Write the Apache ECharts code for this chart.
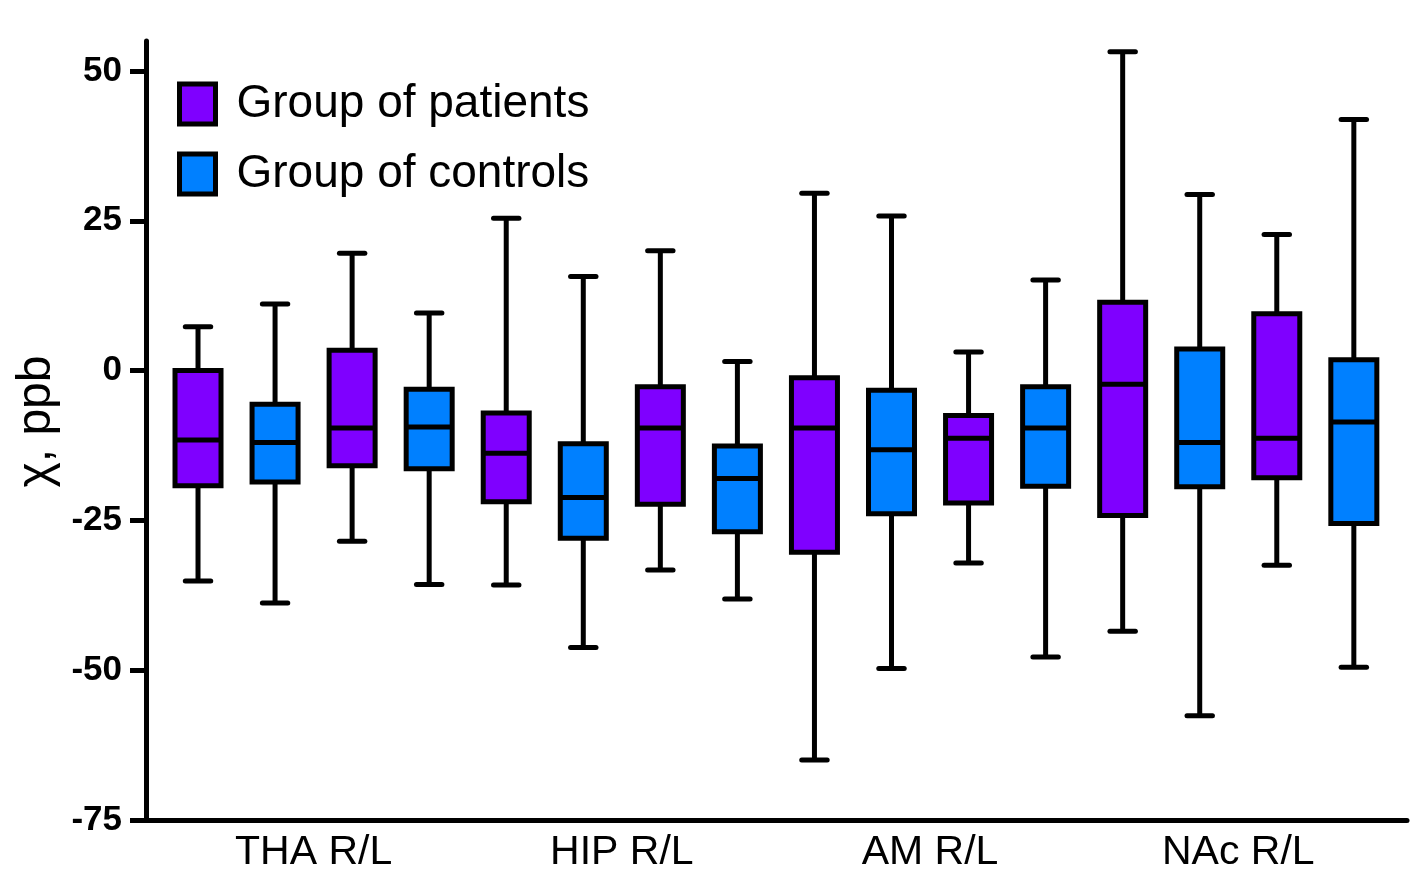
<!DOCTYPE html>
<html>
<head>
<meta charset="utf-8">
<script src="https://cdn.jsdelivr.net/npm/echarts@6/dist/echarts.min.js"></script>
<style>
html,body{margin:0;padding:0;background:#fff;}
#chart{width:1428px;height:891px;}
</style>
</head>
<body>
<div id="chart"></div>
<script>
// Region labels (one per R/L pair) and tick labels
const regions = ['THA R/L', 'HIP R/L', 'AM R/L', 'NAc R/L'];
const yTicks = [-75, -50, -25, 0, 25, 50];

// Box order along the axis: THA-R, THA-L, HIP-R, HIP-L, AM-R, AM-L, NAc-R, NAc-L
// Group of patients
const patientMin    = [-35.1, -28.5, -35.8, -33.3, -65.0, -32.1, -43.5, -32.5];
const patientQ1     = [-19.2, -15.9, -21.9, -22.3, -30.3, -22.1, -24.2, -17.9];
const patientMedian = [-11.6,  -9.6, -13.8,  -9.6,  -9.6, -11.3,  -2.3, -11.3];
const patientQ3     = [  0.0,   3.4,  -7.1,  -2.7,  -1.2,  -7.5,  11.4,   9.5];
const patientMax    = [  7.3,  19.6,  25.4,  20.0,  29.6,   3.1,  53.2,  22.7];
// Group of controls
const controlMin    = [-38.8, -35.7, -46.2, -38.1, -49.7, -47.8, -57.6, -49.5];
const controlQ1     = [-18.6, -16.4, -28.0, -26.9, -23.9, -19.3, -19.4, -25.5];
const controlMedian = [-12.0,  -9.4, -21.2, -18.0, -13.2,  -9.6, -12.0,  -8.6];
const controlQ3     = [ -5.6,  -3.1, -12.2, -12.6,  -3.3,  -2.7,   3.6,   1.8];
const controlMax    = [ 11.1,   9.6,  15.7,   1.5,  25.8,  15.1,  29.4,  41.9];

const PURPLE = '#7F00FF';
const BLUE = '#0080FF';
const FONT = 'Liberation Sans, Arial, Helvetica, sans-serif';
const LW = 5;

// slot index on the axis: each box pair (patient, control) occupies two slots
function buildData(offset, mn, q1, md, q3, mx) {
  return mn.map((v, i) => [i * 2 + offset, mn[i], q1[i], md[i], q3[i], mx[i]]);
}
// Region label sits between the R pair and the L pair
const labelSlots = regions.map((r, i) => i * 4 + 1.5);

const xMin = -0.675, xMax = 15.69;

function boxRenderer(fill) {
  return function (params, api) {
    const x = api.value(0);
    const pMin = api.coord([x, api.value(1)]);
    const pQ1 = api.coord([x, api.value(2)]);
    const pMed = api.coord([x, api.value(3)]);
    const pQ3 = api.coord([x, api.value(4)]);
    const pMax = api.coord([x, api.value(5)]);
    const w = api.size([0.597, 0])[0];
    const c = api.size([0.33, 0])[0];
    const cx = pMed[0];
    const lineStyle = {stroke: '#000', lineWidth: LW};
    const capStyle = {stroke: '#000', lineWidth: LW, lineCap: 'round'};
    return {
      type: 'group',
      children: [
        {type: 'line', shape: {x1: cx, y1: pMax[1], x2: cx, y2: pQ3[1]}, style: lineStyle},
        {type: 'line', shape: {x1: cx, y1: pQ1[1], x2: cx, y2: pMin[1]}, style: lineStyle},
        {type: 'line', shape: {x1: cx - c / 2, y1: pMax[1], x2: cx + c / 2, y2: pMax[1]}, style: capStyle},
        {type: 'line', shape: {x1: cx - c / 2, y1: pMin[1], x2: cx + c / 2, y2: pMin[1]}, style: capStyle},
        {type: 'rect', shape: {x: cx - w / 2, y: pQ3[1], width: w, height: pQ1[1] - pQ3[1]},
          style: {fill: fill, stroke: '#000', lineWidth: LW}},
        {type: 'line', shape: {x1: cx - w / 2, y1: pMed[1], x2: cx + w / 2, y2: pMed[1]}, style: lineStyle}
      ]
    };
  };
}

const chart = echarts.init(document.getElementById('chart'), null, {renderer: 'canvas'});
chart.setOption({
  animation: false,
  backgroundColor: '#fff',
  grid: {left: 146, right: 21, top: 41, bottom: 71},
  legend: {
    orient: 'vertical',
    left: 177, top: 81,
    padding: 0,
    itemWidth: 36, itemHeight: 40,
    itemGap: 24,
    icon: 'rect',
    textStyle: {fontFamily: FONT, fontSize: 46, color: '#000', padding: [0, 0, 0, 16], lineHeight: 42},
    data: [
      {name: 'Group of patients', itemStyle: {color: PURPLE, borderColor: '#000', borderWidth: LW}},
      {name: 'Group of controls', itemStyle: {color: BLUE, borderColor: '#000', borderWidth: LW}}
    ],
    selectedMode: false
  },
  xAxis: {
    type: 'value', min: xMin, max: xMax,
    axisLine: {show: true, onZero: false, lineStyle: {color: '#000', width: LW}},
    axisTick: {show: false},
    splitLine: {show: false},
    axisLabel: {
      customValues: labelSlots,
      formatter: function (v) {
        const idx = labelSlots.indexOf(v);
        return idx >= 0 ? regions[idx] : '';
      },
      fontFamily: FONT, fontSize: 41, color: '#000', margin: 12
    }
  },
  yAxis: {
    type: 'value', min: -75, max: 55,
    name: 'χ, ppb',
    nameLocation: 'middle', nameGap: 62, nameRotate: 90,
    nameTextStyle: {fontFamily: FONT, fontSize: 48, color: '#000', padding: [0, 0, 0, 18]},
    axisLine: {show: true, onZero: false, lineStyle: {color: '#000', width: LW}},
    axisTick: {show: true, inside: false, length: 16, lineStyle: {color: '#000', width: LW}, customValues: yTicks},
    splitLine: {show: false},
    axisLabel: {customValues: yTicks, fontFamily: FONT, fontSize: 35, fontWeight: 'bold', color: '#000', margin: 24}
  },
  series: [
    {
      name: 'Group of patients',
      type: 'custom',
      renderItem: boxRenderer(PURPLE),
      itemStyle: {color: PURPLE},
      encode: {x: 0, y: [1, 2, 3, 4, 5]},
      silent: true,
      data: buildData(0, patientMin, patientQ1, patientMedian, patientQ3, patientMax)
    },
    {
      name: 'Group of controls',
      type: 'custom',
      renderItem: boxRenderer(BLUE),
      itemStyle: {color: BLUE},
      encode: {x: 0, y: [1, 2, 3, 4, 5]},
      silent: true,
      data: buildData(1, controlMin, controlQ1, controlMedian, controlQ3, controlMax)
    }
  ]
});
</script>
</body>
</html>
